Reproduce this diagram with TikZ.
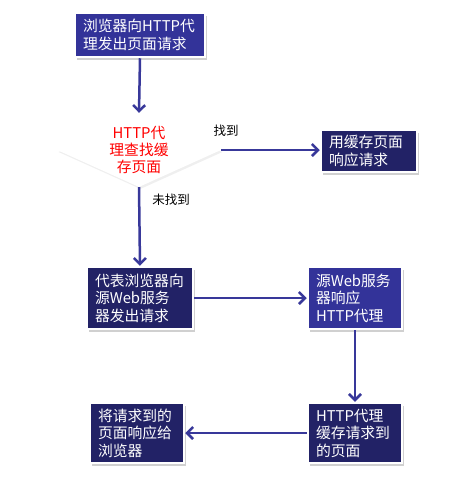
\documentclass[tikz,border=0pt]{standalone}
\usepackage{fontspec}
\setmainfont{Noto Sans CJK SC}
\usetikzlibrary{arrows.meta,shapes.geometric,shadows}
\definecolor{boxblue}{HTML}{333399}
\definecolor{boxdark}{HTML}{222266}
\definecolor{arrowblue}{HTML}{38389A}
\begin{document}
\begin{tikzpicture}[x=1pt,y=-1pt,
  box/.style={rectangle, draw=white, line width=2.5pt, fill=boxdark, text=white,
    align=left, font=\fontsize{14.8}{17.5}\selectfont, inner xsep=8pt, inner ysep=0pt,
    drop shadow={shadow xshift=2pt,shadow yshift=-2.5pt,opacity=0.3,fill=black!60}},
  decision/.style={diamond, fill=white, draw=none, inner sep=0pt,
    minimum width=164pt, minimum height=74pt, shape aspect=2.2,
    drop shadow={shadow xshift=1.5pt,shadow yshift=-2pt,opacity=0.12,fill=black!50}},
  dectext/.style={align=center, text=red, font=\fontsize{14.8}{17}\selectfont, inner sep=0pt},
  lbl/.style={font=\fontsize{12.5}{14}\selectfont, text=black, inner sep=0pt},
  flow/.style={draw=arrowblue, line width=2.5pt, -{Straight Barb[length=6pt,width=12pt,line width=2.5pt]}}
]
\useasboundingbox (0,0) rectangle (466,477);
\fill[white] (0,0) rectangle (466,477);

\node[box, fill=boxblue, text width=114pt, minimum height=44pt] (b1) at (140,35)
  {浏览器向HTTP代\\理发出页面请求};
\node[decision] (d) at (139,150) {};
\node[dectext] (dt) at (d.center) {HTTP代\\理查找缓\\存页面};
\node[box, text width=80pt, minimum height=42pt] (b2) at (369,151)
  {用缓存页面\\响应请求};
\node[box, text width=90pt, minimum height=62pt] (b3) at (140,298)
  {代表浏览器向\\源Web服务\\器发出请求};
\node[box, fill=boxblue, text width=78pt, minimum height=62pt] (b4) at (355,298)
  {源Web服务\\器响应\\HTTP代理};
\node[box, text width=78pt, minimum height=60pt] (b5) at (355,433)
  {HTTP代理\\缓存请求到\\的页面};
\node[box, text width=78pt, minimum height=60pt] (b6) at (137,433)
  {将请求到的\\页面响应给\\浏览器};

\node[lbl] (l1) at (226,131) {找到};
\node[lbl] (l2) at (171,200) {未找到};

\draw[flow] (b1.south) -- (d.north);
\draw[flow] (d.east) -- (d.east -| b2.west);
\draw[flow] (d.south) -- (b3.north);
\draw[flow] (b3.east) -- (b4.west);
\draw[flow] (b4.south) -- (b5.north);
\draw[flow] (b5.west) -- (b6.east);
\end{tikzpicture}
\end{document}
